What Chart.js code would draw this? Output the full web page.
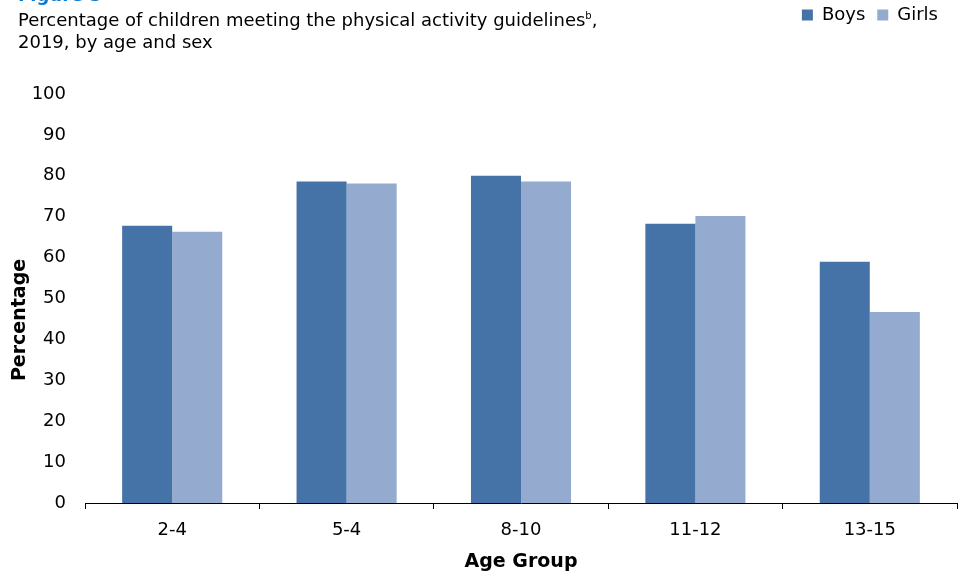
<!DOCTYPE html>
<html>
<head>
<meta charset="utf-8">
<title>Figure 5</title>
<script src="https://cdn.jsdelivr.net/npm/chart.js@4.4.1/dist/chart.umd.min.js"></script>
<style>
  html, body { margin: 0; padding: 0; background: #fff; }
  #wrap { position: relative; width: 961px; height: 576px; overflow: hidden; }
  #heading {
    position: absolute; left: 18px; top: -14px;
    font: 18px/22.5px "DejaVu Sans", sans-serif; color: #000;
    white-space: nowrap; z-index: 2;
  }
  #heading .fig { color: #0B79D0; font-weight: bold; position: relative; top: -2px; }
  #heading sup { font-size: 10px; line-height: 0; vertical-align: 7px; }
  canvas { position: absolute; left: 0; top: 0; }
</style>
</head>
<body>
<div id="wrap">
  <div id="heading">
    <div class="fig">Figure 5</div>
    <div>Percentage of children meeting the physical activity guidelines<sup>b</sup>,</div>
    <div>2019, by age and sex</div>
  </div>
  <canvas id="activityChart" width="961" height="576"></canvas>
</div>

<script>
// ── Data ──────────────────────────────────────────────────────
const AGE_GROUPS = ['2-4', '5-4', '8-10', '11-12', '13-15'];
const BOYS       = [67.8, 78.6, 80.0, 68.3, 59.0];
const GIRLS      = [66.3, 78.1, 78.6, 70.2, 46.7];
const Y_TICKS    = [0, 10, 20, 30, 40, 50, 60, 70, 80, 90, 100];

const FONT = '"DejaVu Sans", sans-serif';

// ── Legend position + rotated y title ─────────────────────────
const layoutTweaks = {
  id: 'layoutTweaks',
  afterLayout(chart) {
    const lg = chart.legend;
    if (!lg) return;
    const h = lg.height;
    lg.left -= 7;
    lg.right -= 7;
    lg.top = -6;
    lg.bottom = lg.top + h;
  },
  afterDraw(chart) {
    const { ctx } = chart;
    ctx.save();
    ctx.translate(20, 320);
    ctx.rotate(-Math.PI / 2);
    ctx.font = 'bold 19px ' + FONT;
    ctx.fillStyle = '#000';
    ctx.textAlign = 'center';
    ctx.textBaseline = 'middle';
    ctx.fillText('Percentage', 0, 0);
    ctx.restore();
  }
};

// ── Chart ─────────────────────────────────────────────────────
function renderActivityChart() {
  const canvas = document.getElementById('activityChart');
  if (!canvas || typeof Chart === 'undefined') return;

  Chart.defaults.font.family = FONT;
  Chart.defaults.font.size = 18;
  Chart.defaults.color = '#000';

  new Chart(canvas, {
    type: 'bar',
    data: {
      labels: AGE_GROUPS,
      datasets: [
        { label: 'Boys',  data: BOYS,  backgroundColor: '#4573A7', borderWidth: 0 },
        { label: 'Girls', data: GIRLS, backgroundColor: '#95AACF', borderWidth: 0 }
      ]
    },
    options: {
      responsive: false,
      animation: false,
      layout: { padding: { top: 54, right: 4, bottom: 0, left: 0 } },
      datasets: { bar: { categoryPercentage: 0.574, barPercentage: 1.0 } },
      plugins: {
        legend: {
          position: 'top',
          align: 'end',
          labels: { boxWidth: 11, boxHeight: 11, padding: 12, font: { size: 18 } }
        },
        tooltip: { enabled: false }
      },
      scales: {
        x: {
          grid: { drawOnChartArea: false, drawTicks: true, tickLength: 6, color: '#000', offset: true },
          border: { display: true, color: '#000', width: 1 },
          ticks: { padding: 11, color: '#000' },
          title: {
            display: true, text: 'Age Group', color: '#000',
            font: { size: 19, weight: 'bold' },
            padding: { top: 0, bottom: 3 }
          },
          afterFit(scale) { scale.height = 73; }
        },
        y: {
          min: 0, max: 100,
          grid: { display: false, drawTicks: false },
          border: { display: false },
          ticks: { padding: 19, color: '#000' },
          afterBuildTicks(scale) { scale.ticks = Y_TICKS.map(v => ({ value: v })); },
          afterFit(scale) { scale.width = 85; }
        }
      }
    },
    plugins: [layoutTweaks]
  });
}

document.addEventListener('DOMContentLoaded', renderActivityChart);
</script>
</body>
</html>
